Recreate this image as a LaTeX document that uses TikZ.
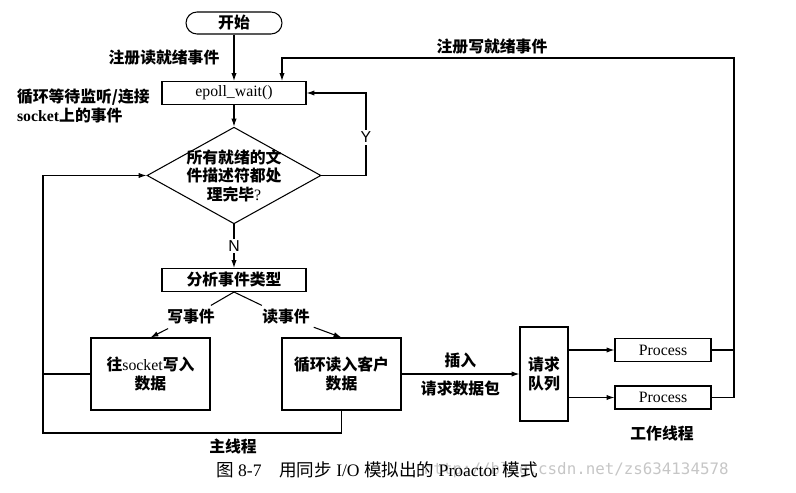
\documentclass[tikz,border=0pt]{standalone}
\usepackage{fontspec}
\setmainfont{Liberation Serif}
\newfontfamily\cjk{Noto Sans CJK SC}
\newfontfamily\yn{Liberation Sans}
\newfontfamily\wm{DejaVu Sans Mono}
\newcommand{\zh}[1]{{\cjk\bfseries #1}}
\usetikzlibrary{shapes.geometric,arrows.meta,positioning}

\begin{document}
\begin{tikzpicture}[x=0.02cm,y=-0.02cm,line width=0.6pt,
    >={Latex[length=4.5pt,width=3pt]},
    font=\fontsize{9}{10.5}\selectfont,
    box/.style={draw,rectangle,inner sep=1pt,align=center},
    decision/.style={draw,diamond,shape aspect=1.8,inner sep=-1.5pt,align=center,
      minimum width=3.34cm,minimum height=1.86cm},
    lbl/.style={inner sep=2pt,align=center},
    ynl/.style={fill=white,inner sep=1pt,font=\yn\fontsize{9}{10}\selectfont}]

  \useasboundingbox (0,0) rectangle (796,493);

  % main thread
  \node[box,rounded corners=0.22cm,minimum width=1.92cm,minimum height=0.44cm] (start) at (234,23) {\zh{开始}};
  \node[box,minimum width=2.88cm,minimum height=0.46cm] (epoll) at (234,93) {epoll\_wait()};
  \node[decision] (done) at (234,175.5) {\zh{所有就绪的文}\\\zh{件描述符都处}\\\zh{理完毕}?};
  \node[box,minimum width=2.88cm,minimum height=0.46cm] (kind) at (234,280) {\zh{分析事件类型}};
  \node[lbl] (wev) at (191,317) {\zh{写事件}};
  \node[lbl] (rev) at (286,317) {\zh{读事件}};
  \node[box,minimum width=2.38cm,minimum height=1.44cm] (wbox) at (150.5,374) {\zh{往}socket\zh{写入}\\\zh{数据}};
  \node[box,minimum width=2.38cm,minimum height=1.44cm] (rbox) at (341.5,374) {\zh{循环读入客户}\\\zh{数据}};

  % worker threads
  \node[box,minimum width=0.96cm,minimum height=1.88cm] (queue) at (544,374) {\zh{请求}\\\zh{队列}};
  \node[box,minimum width=1.92cm,minimum height=0.46cm] (p1) at (663,350) {Process};
  \node[box,minimum width=1.92cm,minimum height=0.46cm] (p2) at (663,397.5) {Process};

  % labels
  \node[lbl] (readreg) at (164,58) {\zh{注册读就绪事件}};
  \node[lbl,align=left,anchor=west] (waitlbl) at (13,106) {\zh{循环等待监听/连接}\\\textbf{socket}\zh{上的事件}};
  \node[lbl] (writereg) at (492,47) {\zh{注册写就绪事件}};
  \node[lbl] (mainlbl) at (233,446) {\zh{主线程}};
  \node[lbl] (worklbl) at (662,433) {\zh{工作线程}};
  \node[text=gray!45,font=\wm\fontsize{9}{9}\selectfont,anchor=east] (mark) at (735,470) {http://blog.csdn.net/zs634134578};
  \node[font=\fontsize{10}{12}\selectfont] (caption) at (377,470) {{\cjk 图} 8-7\quad{\cjk 用同步} I/O {\cjk 模拟出的} Proactor {\cjk 模式}};

  \coordinate (yturn) at (366,175.5);
  \coordinate (mainl) at (43,433);
  \coordinate (wr) at (734,58);
  \coordinate (wl) at (282,58);

  \draw[->] (start) -- (epoll);
  \draw[->] (epoll) -- (done);
  \draw[->] (done.east) -- (yturn) |- node[pos=0.23,ynl] {Y} (epoll.east);
  \draw[->] (done.south) -- node[ynl] {N} (kind.north);
  \draw (kind.south) -- (wev);
  \draw (kind.south) -- (rev);
  \draw[->] (wev) -- (wbox.north);
  \draw[->] (rev) -- (rbox.north);
  \draw[->] (rbox.south) |- (mainl) |- (done.west);
  \draw (wbox.west) -- (wbox.west -| mainl);
  \draw[->] (rbox) -- node[above] {\zh{插入}} node[below] {\zh{请求数据包}} (queue);
  \draw[->] (queue.east |- p1) -- (p1.west);
  \draw[->] (queue.east |- p2) -- (p2.west);
  \draw (p1.east) -- (p1.east -| wr);
  \draw[->] (p2.east) -| (wr) -- (wl) -- (epoll.north -| wl);

\end{tikzpicture}
\end{document}
